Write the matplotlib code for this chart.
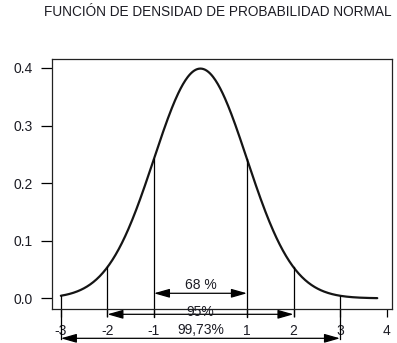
import numpy as np
import matplotlib
matplotlib.use("Agg")
import matplotlib.pyplot as plt

plt.rcParams['font.family'] = ['Liberation Sans', 'DejaVu Sans']

title = "FUNCIÓN DE DENSIDAD DE PROBABILIDAD NORMAL"
x_ticks = [-3, -2, -1, 1, 2, 3, 4]
x_tick_labels = ["-3", "-2", "-1", "1", "2", "3", "4"]
y_ticks = [0.0, 0.1, 0.2, 0.3, 0.4]
# intervals: half width, label, arrow height, label height, line bottom
widths = [1, 2, 3]
labels = ["68 %", "95%", "99,73%"]
arrow_y = [0.0087, -0.0278, -0.0695]
label_y = [0.023, -0.024, -0.055]
line_bottom = [-0.033, -0.031, -0.0707]
x_start, x_end = -3.0, 3.8

ink = "#1c1c24"


def normal_pdf(x):
    return np.exp(-x ** 2 / 2.0) / np.sqrt(2 * np.pi)


fig = plt.figure(figsize=(3.97, 3.43), dpi=100)
ax = fig.add_axes([0.131, 0.0991, 0.8556, 0.7289])

xs = np.linspace(x_start, x_end, 400)
ax.plot(xs, normal_pdf(xs), color="#151515", lw=1.6, solid_capstyle="round")

for w, lab, ay, ly, lb in zip(widths, labels, arrow_y, label_y, line_bottom):
    for sx in (-w, w):
        ax.plot([sx, sx], [lb, normal_pdf(sx)], color="black", lw=0.9,
                clip_on=False)
    ax.annotate("", xy=(-w, ay), xytext=(w, ay),
                arrowprops=dict(arrowstyle="<|-|>,head_length=0.95,head_width=0.27",
                                color="black", lw=0.9,
                                mutation_scale=10, shrinkA=0, shrinkB=0),
                annotation_clip=False)
    ax.text(0, ly, lab, ha="center", va="center", fontsize=10, color=ink,
            clip_on=False)

ax.set_xlim(-3.19, 4.11)
ax.set_ylim(-0.0186, 0.4156)
ax.set_xticks(x_ticks)
ax.set_xticklabels(x_tick_labels)
ax.set_yticks(y_ticks)
ax.set_yticklabels(["%.1f" % v for v in y_ticks])
ax.tick_params(axis="y", length=8, width=0.9, pad=6, labelsize=10,
               labelcolor=ink)
ax.tick_params(axis="x", length=5.5, width=0.9, pad=5, labelsize=10,
               labelcolor=ink)
for s in ax.spines.values():
    s.set_linewidth(0.9)
    s.set_color("#222222")

fig.text(0.548, 1 - 12.5 / 343, title, ha="center", va="center",
         fontsize=9.8, color=ink)

fig.savefig("out.png", dpi=100)
